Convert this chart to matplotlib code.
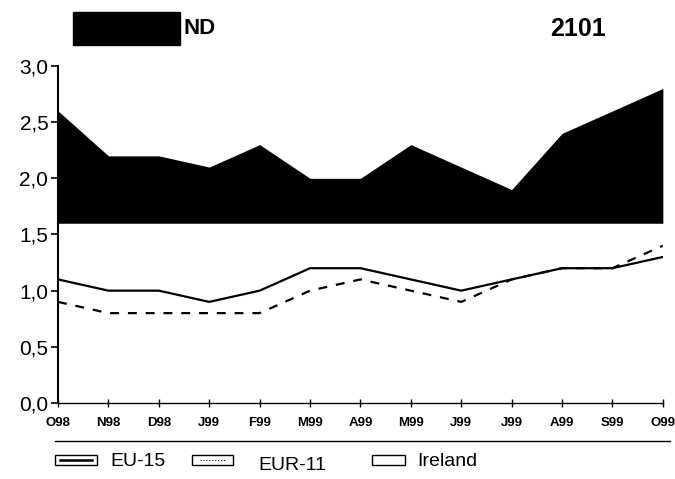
import matplotlib
matplotlib.use("Agg")
import matplotlib.pyplot as plt
from matplotlib.patches import Rectangle
from matplotlib.lines import Line2D

plt.rcParams['font.family'] = ['Liberation Sans', 'DejaVu Sans']

months = ["O98", "N98", "D98", "J99", "F99", "M99", "A99", "M99", "J99", "J99", "A99", "S99", "O99"]
ireland = [2.6, 2.2, 2.2, 2.1, 2.3, 2.0, 2.0, 2.3, 2.1, 1.9, 2.4, 2.6, 2.8]
eu15 = [1.1, 1.0, 1.0, 0.9, 1.0, 1.2, 1.2, 1.1, 1.0, 1.1, 1.2, 1.2, 1.3]
eur11 = [0.9, 0.8, 0.8, 0.8, 0.8, 1.0, 1.1, 1.0, 0.9, 1.1, 1.2, 1.2, 1.4]
yticks = [0.0, 0.5, 1.0, 1.5, 2.0, 2.5, 3.0]
ytick_labels = ["0,0", "0,5", "1,0", "1,5", "2,0", "2,5", "3,0"]

fig = plt.figure(figsize=(6.75, 4.79), dpi=100)
ax = fig.add_axes([0.086, 0.1587, 0.896, 0.7035])
x = list(range(len(months)))

ax.fill_between(x, ireland, 1.6, color="black", lw=0)
ax.plot(x, eu15, color="black", lw=1.6)
ax.plot(x, eur11, color="black", lw=1.6, dashes=(4, 4))

ax.set_xlim(0, len(months) - 1)
ax.set_ylim(0, 3.0)
ax.set_yticks(yticks)
ax.set_yticklabels(ytick_labels, fontsize=15)
ax.set_xticks(x)
ax.set_xticklabels(months, fontsize=9.5, fontweight="bold")
for s in ["top", "right"]:
    ax.spines[s].set_visible(False)
ax.spines["left"].set_linewidth(1.5)
ax.spines["bottom"].set_linewidth(1.0)
ax.tick_params(axis="y", direction="out", length=5, width=1.2, pad=2)
ax.tick_params(axis="x", direction="inout", length=6, width=1.0, pad=7)

# Header
W, H = 675, 479
def fx(px): return px / W
def fy(py): return 1 - py / H
fig.patches.append(Rectangle((fx(73), fy(45)), fx(107), fy(12) - fy(45),
                             transform=fig.transFigure, color="black", zorder=5))
fig.text(fx(183), fy(29), "ND", fontsize=16, fontweight="bold", va="center", ha="left")
fig.text(fx(606), fy(29), "2101", fontsize=18, fontweight="bold", va="center", ha="right")

# Separator line above legend
fig.lines.append(Line2D([fx(55), fx(670)], [fy(441), fy(441)], transform=fig.transFigure,
                        color="black", lw=1.0))

# Legend
def box(x0, x1, y0, y1, **kw):
    fig.patches.append(Rectangle((fx(x0), fy(y1)), fx(x1) - fx(x0), fy(y0) - fy(y1),
                                 transform=fig.transFigure, fill=False, **kw))
box(55, 97, 455, 465, lw=1.0, ec="black")
fig.lines.append(Line2D([fx(60), fx(92)], [fy(460), fy(460)], transform=fig.transFigure, color="black", lw=1.8))
fig.text(fx(110), fy(461), "EU-15", fontsize=14, va="center", ha="left")
box(192, 233, 455, 465, lw=1.0, ec="black")
fig.lines.append(Line2D([fx(200), fx(225)], [fy(460), fy(460)], transform=fig.transFigure, color="black", lw=0.8, ls=":"))
fig.text(fx(258), fy(466), "EUR-11", fontsize=14, va="center", ha="left")
box(372, 405, 455, 465, lw=1.0, ec="black")
fig.text(fx(417), fy(461), "Ireland", fontsize=14, va="center", ha="left")

fig.savefig("out.png", dpi=100)
